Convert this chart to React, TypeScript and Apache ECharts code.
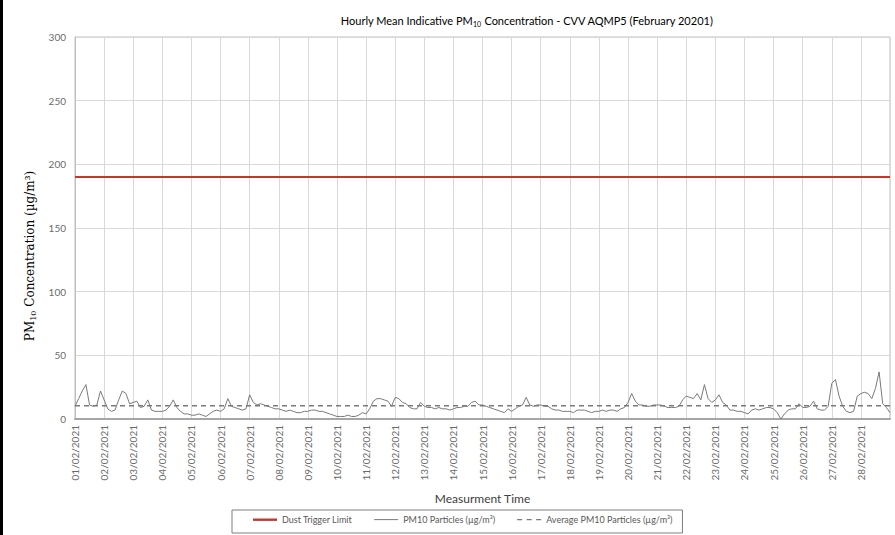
import React, { useEffect, useRef } from "react";
import * as echarts from "echarts";

// Tick labels (one per day boundary)
const DATES: string[] = Array.from({ length: 28 }, (_, i) => `${String(i + 1).padStart(2, "0")}/02/2021`);

// PM10 readings every 3 hours (8 per day)
const WEEK1 = [
  10, 16, 22, 27, 11, 10, 11, 22,
  15, 8, 6, 7, 15, 22, 20, 12,
  13, 14, 9, 10, 15, 7, 6, 6,
  6, 7, 10, 15, 9, 6, 4, 4,
  3, 3, 4, 3, 2, 4, 6, 7,
  6, 8, 16, 10, 9, 8, 7, 8,
  19, 13, 11, 12, 11, 10, 9, 8,
];
const WEEK2 = [
  8, 7, 6, 7, 6, 5, 5, 6,
  6, 7, 7, 6, 6, 5, 4, 3,
  2, 2, 2, 3, 2, 2, 3, 5,
  4, 8, 14, 16, 16, 15, 14, 10,
  17, 16, 13, 12, 9, 8, 8, 13,
  10, 9, 9, 8, 9, 8, 8, 7,
  8, 9, 9, 10, 10, 13, 14, 11,
];
const WEEK3 = [
  11, 10, 9, 8, 7, 6, 5, 8,
  6, 8, 10, 11, 17, 11, 10, 11,
  11, 10, 10, 8, 7, 7, 6, 6,
  6, 5, 7, 7, 7, 6, 5, 6,
  6, 7, 6, 7, 7, 6, 8, 9,
  13, 20, 14, 11, 11, 10, 10, 11,
  11, 11, 10, 9, 9, 9, 10, 15,
];
const WEEK4 = [
  18, 17, 16, 20, 15, 27, 16, 13,
  15, 19, 13, 11, 7, 7, 6, 6,
  5, 4, 7, 8, 7, 8, 9, 9,
  8, 5, 0, 4, 7, 8, 8, 12,
  9, 9, 10, 14, 8, 7, 7, 10,
  28, 31, 18, 10, 6, 5, 6, 18,
  20, 21, 20, 16, 24, 37, 12, 9,
  5,
];
const STEP_HOURS = 3;
const TOTAL_HOURS = 672;
const DUST_TRIGGER = 190;
const AVERAGE_PM10 = 10.4;
const Y_TICKS = [0, 50, 100, 150, 200, 250, 300];

const ICON_SOLID_THICK = "path://M0,0 M0,3h24v2.4h-24z M0,8";
const ICON_SOLID_THIN = "path://M0,0 M0,3.6h24v1h-24z M0,8";
const ICON_DASHED = "path://M0,0 M0,3.4h5v1.3h-5z M9.5,3.4h5v1.3h-5z M19,3.4h5v1.3h-5z M0,8";

export default function App() {
  const ref = useRef<HTMLDivElement>(null);
  useEffect(() => {
    if (!ref.current) return;
    const chart = echarts.init(ref.current, undefined, { renderer: "svg" });
    const all = [...WEEK1, ...WEEK2, ...WEEK3, ...WEEK4];
    const pm = all.map((v, i) => [i * STEP_HOURS, v]);
    const font = "Lato, 'Open Sans', sans-serif";
    const serif = "'DejaVu Serif', 'Liberation Serif', serif";
    chart.setOption({
      animation: false,
      backgroundColor: "#ffffff",
      grid: { left: 75, right: 5, top: 37, bottom: 116, show: true, borderColor: "#bfbfbf", borderWidth: 1 },
      xAxis: {
        type: "value",
        min: 0,
        max: TOTAL_HOURS,
        interval: 24,
        name: "Measurment Time",
        nameLocation: "middle",
        nameGap: 73,
        nameTextStyle: { fontFamily: font, fontSize: 12, color: "#404040" },
        axisLine: { show: true, lineStyle: { color: "#a6a6a6", width: 2 } },
        axisTick: { show: false },
        axisLabel: {
          rotate: 90,
          margin: 6,
          fontFamily: font,
          fontSize: 10,
          color: "#6b6b6b",
          showMaxLabel: false,
          formatter: (v: number) => DATES[Math.round(v / 24)] ?? "",
        },
        splitLine: { show: true, lineStyle: { color: "#d9d9d9", width: 1 } },
      },
      yAxis: {
        type: "value",
        min: Y_TICKS[0],
        max: Y_TICKS[Y_TICKS.length - 1],
        interval: 50,
        axisLine: { show: true, lineStyle: { color: "#bfbfbf" } },
        axisTick: { show: false },
        axisLabel: { fontFamily: font, fontSize: 10, color: "#6b6b6b", margin: 9 },
        splitLine: { show: true, lineStyle: { color: "#d9d9d9", width: 1 } },
      },
      legend: {
        left: 232,
        top: 510,
        padding: [5, 10, 9, 21],
        borderColor: "#7f7f7f",
        borderWidth: 1,
        itemWidth: 24,
        itemHeight: 8,
        itemGap: 22,
        textStyle: { fontFamily: font, fontSize: 9, color: "#595959" },
        data: [
          { name: "Dust Trigger Limit", icon: ICON_SOLID_THICK, itemStyle: { color: "#c0392b" } },
          { name: "PM10 Particles (µg/m³)", icon: ICON_SOLID_THIN, itemStyle: { color: "#7a7a7a" } },
          { name: "Average PM10 Particles (µg/m³)", icon: ICON_DASHED, itemStyle: { color: "#7a7a7a" } },
        ],
      },
      graphic: [
        { type: "rect", left: 0, top: 0, shape: { width: 3, height: 535 }, style: { fill: "#000" } },
        {
          type: "text",
          x: 527,
          y: 20,
          style: {
            text: "{a|Hourly Mean Indicative PM}{s|10}{a| Concentration - CVV AQMP5 (February 20201)}",
            align: "center",
            verticalAlign: "middle",
            rich: {
              a: { fontFamily: font, fontSize: 11, color: "#404040", lineHeight: 14 },
              s: { fontFamily: font, fontSize: 7, color: "#404040", lineHeight: 7, verticalAlign: "bottom" },
            },
          },
        },
        {
          type: "text",
          x: 30,
          y: 256,
          rotation: Math.PI / 2,
          style: {
            text: "{a|PM}{s|10}{a| Concentration (µg/m³)}",
            align: "center",
            verticalAlign: "middle",
            rich: {
              a: { fontFamily: serif, fontSize: 12, color: "#404040", lineHeight: 15 },
              s: { fontFamily: serif, fontSize: 8, color: "#404040", lineHeight: 8, verticalAlign: "bottom" },
            },
          },
        },
      ],
      series: [
        {
          name: "Dust Trigger Limit",
          type: "line",
          symbol: "none",
          data: [[0, DUST_TRIGGER], [TOTAL_HOURS, DUST_TRIGGER]],
          lineStyle: { color: "#c0392b", width: 2 },
          itemStyle: { color: "#c0392b" },
          z: 3,
        },
        {
          name: "PM10 Particles (µg/m³)",
          type: "line",
          symbol: "none",
          data: pm,
          lineStyle: { color: "#7a7a7a", width: 1 },
          itemStyle: { color: "#7a7a7a" },
          z: 2,
        },
        {
          name: "Average PM10 Particles (µg/m³)",
          type: "line",
          symbol: "none",
          data: [[0, AVERAGE_PM10], [TOTAL_HOURS, AVERAGE_PM10]],
          lineStyle: { color: "#7a7a7a", width: 1.3, type: [5, 4] },
          itemStyle: { color: "#7a7a7a" },
          z: 2,
        },
      ],
    });
    return () => chart.dispose();
  }, []);
  return (
    <div style={{ position: "absolute", left: 0, top: 0, width: 895, height: 535, background: "#fff" }}>
      <div ref={ref} style={{ width: 895, height: 535 }} />
    </div>
  );
}
